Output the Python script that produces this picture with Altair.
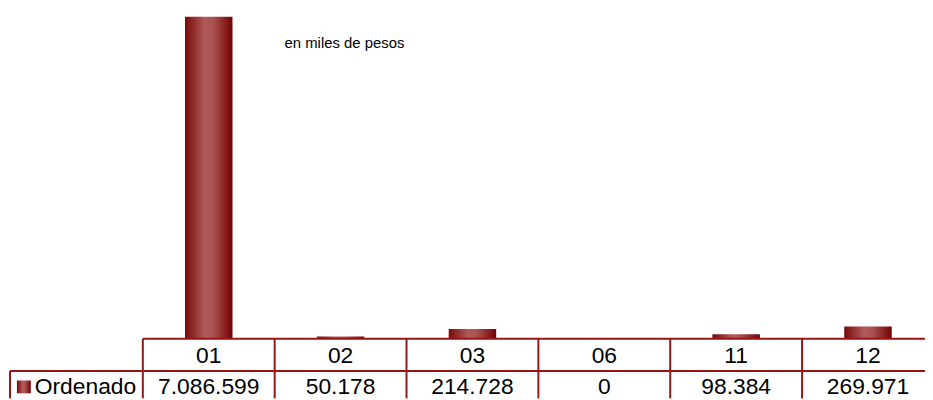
import altair as alt
import pandas as pd

categories = ["01", "02", "03", "06", "11", "12"]
values = [7086599, 50178, 214728, 0, 98384, 269971]
series_name = "Ordenado"
note_text = "en miles de pesos"

labels = [f"{v:,}".replace(",", ".") for v in values]
df = pd.DataFrame({"cat": categories, "val": values, "label": labels, "idx": list(range(len(categories)))})
one = pd.DataFrame({"k": [0]})

LINE = "#991414"
FONT = "Liberation Sans"
COL_W = 133          # pixel width of one table column
PLOT_W = 789         # visible plot width (table continues past the window edge)
PLOT_H = 325

grad = alt.LinearGradient(
    gradient="linear",
    stops=[
        alt.GradientStop(color="#7a0808", offset=0),
        alt.GradientStop(color="#b05c5c", offset=0.42),
        alt.GradientStop(color="#a85050", offset=0.6),
        alt.GradientStop(color="#760000", offset=1),
    ],
    x1=0, x2=1, y1=0, y2=0,
)

xscale = alt.Scale(domain=[0, PLOT_W / COL_W], nice=False, zero=False, padding=0)
yscale = alt.Scale(domain=[0, max(values)], nice=False, zero=True, padding=0)

base = alt.Chart(df).transform_calculate(
    left="datum.idx", center="datum.idx + 0.5",
    b0="datum.idx + 0.32", b1="datum.idx + 0.68",
)

bars = base.mark_bar(color=grad, orient="vertical").encode(
    x=alt.X("b0:Q", scale=xscale, axis=None),
    x2="b1:Q",
    y=alt.Y("val:Q", scale=yscale, axis=None),
    y2=alt.datum(0),
)

header = base.mark_text(fontSize=23, font=FONT, baseline="alphabetic", color="black").encode(
    x=alt.X("center:Q", scale=xscale, axis=None), y=alt.value(349), text="cat:N"
)
vals = base.mark_text(fontSize=23, font=FONT, baseline="alphabetic", color="black").encode(
    x=alt.X("center:Q", scale=xscale, axis=None), y=alt.value(381), text="label:N"
)

vrules = base.mark_rule(color=LINE, strokeWidth=2).encode(
    x=alt.X("left:Q", scale=xscale, axis=None),
    y=alt.value(PLOT_H), y2=alt.value(385),
)

top_line = alt.Chart(one).mark_rule(color=LINE, strokeWidth=2).encode(
    x=alt.value(0), x2=alt.value(PLOT_W), y=alt.value(PLOT_H)
)
mid_line = alt.Chart(one).mark_rule(color=LINE, strokeWidth=2).encode(
    x=alt.value(-134), x2=alt.value(PLOT_W), y=alt.value(357.5)
)
left_line = alt.Chart(one).mark_rule(color=LINE, strokeWidth=2).encode(
    x=alt.value(-134), y=alt.value(357.5), y2=alt.value(385)
)

legend_sq = alt.Chart(one).mark_rect(color=grad).encode(
    x=alt.value(-127), x2=alt.value(-113), y=alt.value(367), y2=alt.value(380)
)
legend_txt = alt.Chart(one).mark_text(
    text=series_name, fontSize=23, font=FONT, align="left", baseline="alphabetic", color="black"
).encode(x=alt.value(-109), y=alt.value(381))

note = alt.Chart(one).mark_text(
    text=note_text, fontSize=15, font=FONT, align="left", baseline="alphabetic", color="black"
).encode(x=alt.value(143), y=alt.value(32))

chart = alt.layer(
    bars, vrules, top_line, mid_line, left_line, header, vals, legend_sq, legend_txt, note
).properties(
    width=PLOT_W,
    height=PLOT_H,
    autosize="none",
    padding={"left": 136, "top": 7, "right": 0, "bottom": 60},
).configure_view(stroke=None)

chart.save("out.html", embed_options={"renderer": "svg", "actions": False})
